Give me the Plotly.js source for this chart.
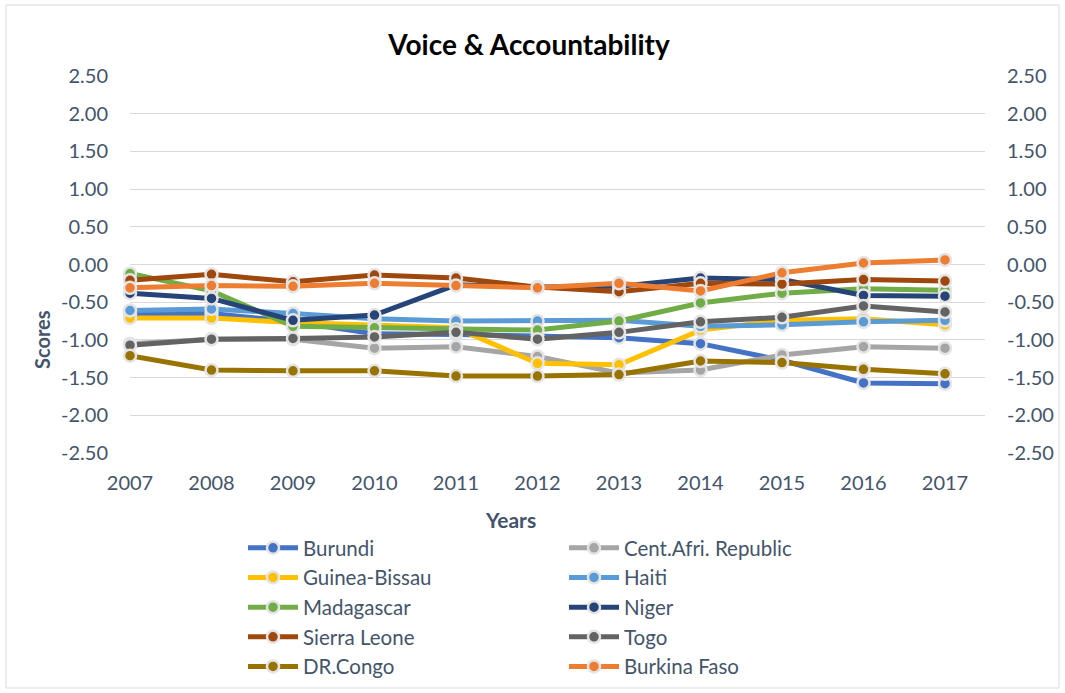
<!DOCTYPE html>
<html>
<head>
<meta charset="utf-8">
<script src="https://cdn.plot.ly/plotly-3.0.1.min.js"></script>
<style>
  html, body { margin: 0; padding: 0; background: #fff; }
  #chart { width: 1065px; height: 693px; }
</style>
</head>
<body>
<div id="chart"></div>
<script>
// Voice & Accountability scores, 2007-2017
const years = [2007, 2008, 2009, 2010, 2011, 2012, 2013, 2014, 2015, 2016, 2017];

const burundi      = [-0.65, -0.65, -0.76, -0.92, -0.93, -0.95, -0.97, -1.05, -1.27, -1.57, -1.58];
const centAfrRep   = [-1.05, -0.99, -0.99, -1.11, -1.09, -1.22, -1.44, -1.40, -1.20, -1.09, -1.11];
const guineaBissau = [-0.71, -0.71, -0.77, -0.80, -0.84, -1.31, -1.33, -0.87, -0.74, -0.72, -0.80];
const haiti        = [-0.61, -0.59, -0.65, -0.72, -0.75, -0.75, -0.74, -0.82, -0.80, -0.76, -0.74];
const madagascar   = [-0.12, -0.35, -0.82, -0.84, -0.86, -0.87, -0.75, -0.51, -0.38, -0.32, -0.34];
const niger        = [-0.38, -0.45, -0.74, -0.67, -0.27, -0.30, -0.29, -0.18, -0.20, -0.41, -0.42];
const sierraLeone  = [-0.21, -0.13, -0.23, -0.14, -0.18, -0.30, -0.36, -0.25, -0.26, -0.20, -0.22];
const togo         = [-1.07, -0.99, -0.98, -0.96, -0.90, -0.99, -0.90, -0.76, -0.70, -0.55, -0.63];
const drCongo      = [-1.21, -1.40, -1.41, -1.41, -1.48, -1.48, -1.46, -1.28, -1.30, -1.39, -1.45];
const burkinaFaso  = [-0.31, -0.28, -0.29, -0.25, -0.28, -0.31, -0.25, -0.35, -0.11, 0.02, 0.06];

const yTicks = [2.5, 2.0, 1.5, 1.0, 0.5, 0.0, -0.5, -1.0, -1.5, -2.0, -2.5];
// plain hyphen-minus labels, two decimals
const yTickText = yTicks.map(v => v.toFixed(2));

const series = [
  { name: 'Burundi',              y: burundi,      color: '#4472C4' },
  { name: 'Cent.Afri. Republic',  y: centAfrRep,   color: '#A5A5A5' },
  { name: 'Guinea-Bissau',        y: guineaBissau, color: '#FFC000' },
  { name: 'Haiti',                y: haiti,        color: '#5B9BD5' },
  { name: 'Madagascar',           y: madagascar,   color: '#70AD47' },
  { name: 'Niger',                y: niger,        color: '#264478' },
  { name: 'Sierra Leone',         y: sierraLeone,  color: '#9E480E' },
  { name: 'Togo',                 y: togo,         color: '#636363' },
  { name: 'DR.Congo',             y: drCongo,      color: '#997300' },
  { name: 'Burkina Faso',         y: burkinaFaso,  color: '#ED7D31' }
];

const FONT = 'Lato, "Open Sans", sans-serif';
const INK = '#44546A';

// the last series sits on the secondary (right) axis so that axis is drawn; both share one range
const traces = series.map((s, i) => ({
  type: 'scatter',
  mode: 'lines+markers',
  name: s.name,
  x: years,
  y: s.y,
  yaxis: i === series.length - 1 ? 'y2' : 'y',
  line: { color: s.color, width: 5 },
  marker: { color: s.color, size: 12, line: { color: '#E4E4E4', width: 2.5 } },
  cliponaxis: false,
  hoverinfo: 'x+y+name'
}));

const plotL = 130, plotR = 985, plotT = 76, plotB = 453;
const W = 1065, H = 693;
const pw = plotR - plotL, ph = plotB - plotT;
const px = x => (x - plotL) / pw;
const py = y => (plotB - y) / ph;

const yAxisBase = {
  range: [-2.5, 2.5],
  tickvals: yTicks,
  ticktext: yTickText,
  showline: false,
  zeroline: false,
  ticks: '',
  ticklabelstandoff: 21,
  tickfont: { family: FONT, size: 20, color: INK },
  fixedrange: true
};

const layout = {
  width: W,
  height: H,
  margin: { l: plotL, r: W - plotR, t: plotT, b: H - plotB, pad: 0, autoexpand: false },
  paper_bgcolor: '#FFFFFF',
  plot_bgcolor: '#FFFFFF',
  font: { family: FONT, color: INK },
  title: {
    text: 'Voice &amp; Accountability',
    font: { family: FONT, size: 28, color: '#000000', weight: 'bold' },
    xref: 'paper', x: px(529), xanchor: 'center',
    yref: 'container', y: 1 - 45 / H, yanchor: 'middle'
  },
  xaxis: {
    range: [2007, 2017 + 40 / 81.5],
    tickvals: years,
    showgrid: false,
    zeroline: false,
    showline: false,
    ticks: '',
    ticklabelstandoff: 16,
    tickfont: { family: FONT, size: 20, color: INK },
    fixedrange: true
  },
  yaxis: Object.assign({}, yAxisBase, {
    showgrid: true,
    gridcolor: '#D9D9D9',
    gridwidth: 1
  }),
  yaxis2: Object.assign({}, yAxisBase, {
    overlaying: 'y',
    side: 'right',
    showgrid: false
  }),
  showlegend: true,
  legend: {
    orientation: 'h',
    x: px(243), xanchor: 'left',
    y: py(528), yanchor: 'top',
    entrywidth: 256,
    entrywidthmode: 'pixels',
    itemwidth: 50,
    font: { family: FONT, size: 20.5, color: INK },
    bgcolor: 'rgba(0,0,0,0)'
  },
  annotations: [
    {
      text: '<b>Scores</b>', textangle: -90,
      xref: 'paper', yref: 'paper', x: px(42), y: py(340),
      xanchor: 'center', yanchor: 'middle', showarrow: false,
      font: { family: FONT, size: 20, color: INK }
    },
    {
      text: '<b>Years</b>',
      xref: 'paper', yref: 'paper', x: px(510), y: py(519),
      xanchor: 'center', yanchor: 'middle', showarrow: false,
      font: { family: FONT, size: 21, color: INK }
    }
  ],
  shapes: [
    {
      type: 'rect', xref: 'paper', yref: 'paper', layer: 'below',
      x0: px(6), x1: px(1059), y0: py(688), y1: py(5),
      line: { color: '#D9D9D9', width: 1 }, fillcolor: 'rgba(0,0,0,0)'
    }
  ]
};

Plotly.newPlot('chart', traces, layout, { displayModeBar: false, staticPlot: true });
</script>
</body>
</html>
